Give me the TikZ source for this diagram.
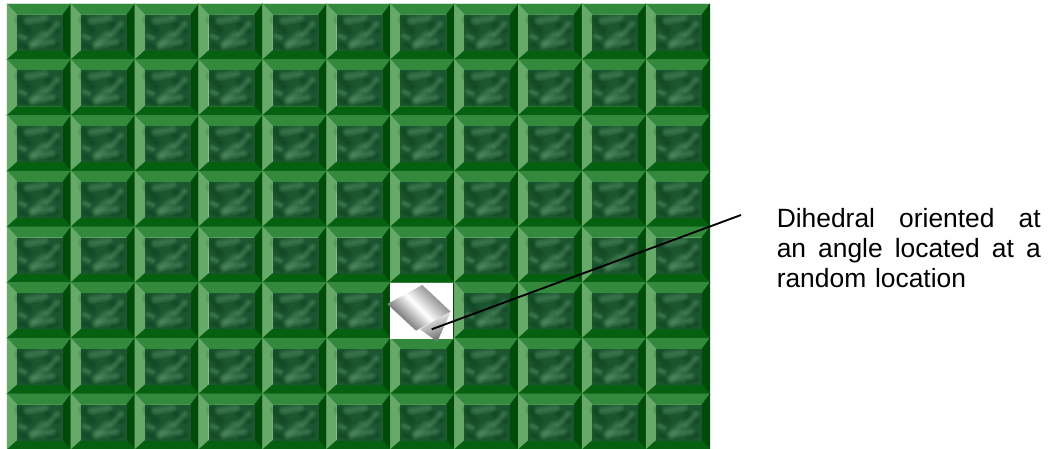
\documentclass[tikz,border=0pt]{standalone}
\usepackage{fontspec}
\setmainfont{Liberation Sans}
\usetikzlibrary{arrows.meta,positioning,calc}
\definecolor{bevtop}{HTML}{338A3C}
\definecolor{bevleft}{HTML}{66A968}
\definecolor{bevright}{HTML}{004B08}
\definecolor{bevbot}{HTML}{056010}
\definecolor{tilecol}{HTML}{1C5630}
\definecolor{blotcol}{HTML}{6CA87C}
\definecolor{blotdark}{HTML}{0A3A1A}
\newcommand{\tilew}{63.9}
\newcommand{\tileh}{55.7}
% soft stroke: the same path laid down at growing widths
\newcommand{\soft}[3]{\foreach \lw in {0.25,0.5,0.75,1}
  \draw[#1,opacity=0.1,line cap=round,line join=round,line width=\lw*#2] #3;}

\begin{document}
\begin{tikzpicture}[x=0.75pt,y=-0.75pt,
  bev/.style={line width=0.3pt},
  lab/.style={inner sep=0pt,text width=198pt,align=left,anchor=north west,
              font=\fontsize{19.8}{22.7}\selectfont},
  tile/.pic={
    \filldraw[bevtop,bev] (0,0) -- (\tilew,0) -- (\tilew-8,10.7) -- (10,10.7) -- cycle;
    \filldraw[bevleft,bev] (0,0) -- (10,10.7) -- (10,46.7) -- (0,\tileh) -- cycle;
    \filldraw[bevright,bev] (\tilew,0) -- (\tilew-8,10.7) -- (\tilew-8,46.7) -- (\tilew,\tileh) -- cycle;
    \filldraw[bevbot,bev] (0,\tileh) -- (10,46.7) -- (\tilew-8,46.7) -- (\tilew,\tileh) -- cycle;
    \fill[tilecol] (10,10.7) rectangle (\tilew-8,46.7);
    % mottled middle of the tile
    \soft{blotdark}{9pt}{(13,16) -- (21,27)}
    \soft{blotdark}{7pt}{(40,20) -- (50,27)}
    \soft{blotdark}{6pt}{(14,41) -- (20,43)}
    \soft{blotdark}{6pt}{(42,43) -- (50,41)}
    \soft{blotcol}{8pt}{(25,41) -- (36,31)}
    \soft{blotcol}{7pt}{(27,40) -- (45,38)}
    \soft{blotcol}{7pt}{(20,17) -- (38,14)}
    \soft{blotcol}{6pt}{(40,31) -- (50,20)}
    \soft{blotcol}{5pt}{(13,32) -- (18,34)}
  },
]
\useasboundingbox (0,0) rectangle (1053,449);
\fill[white] (0,0) rectangle (1053,449);

% the tiled plate
\foreach \col in {0,...,10}
  \foreach \row in {0,...,7}
    \pic at ({7+\col*\tilew},{4+\row*\tileh}) {tile};

% empty cell holding the dihedral
\node[fill=white,inner sep=0pt,minimum width=47.2pt,minimum height=41.6pt,anchor=north west]
  (cell) at (390.2,282.8) {};

\shade[top color=black!58,bottom color=black!72,middle color=white,shading angle=-45]
  (387.3,304) -- (422.3,285) -- (450.7,311.7) -- (416,330.7) -- cycle;
\shade[top color=white,bottom color=black!60,shading angle=20]
  (420,329.3) -- (447,313.5) -- (450.7,311.7) -- (437.3,341.7) -- cycle;

\coordinate (tip) at (431.7,329.3);
\coordinate (far) at (741,215);
\draw[black,line width=1.4pt] (tip) -- (far);

\node[lab] (note) at (776.5,208) {Dihedral\hfill oriented\hfill at\\
  an\hfill angle\hfill located\hfill at\hfill a\\
  random location};
\end{tikzpicture}
\end{document}
